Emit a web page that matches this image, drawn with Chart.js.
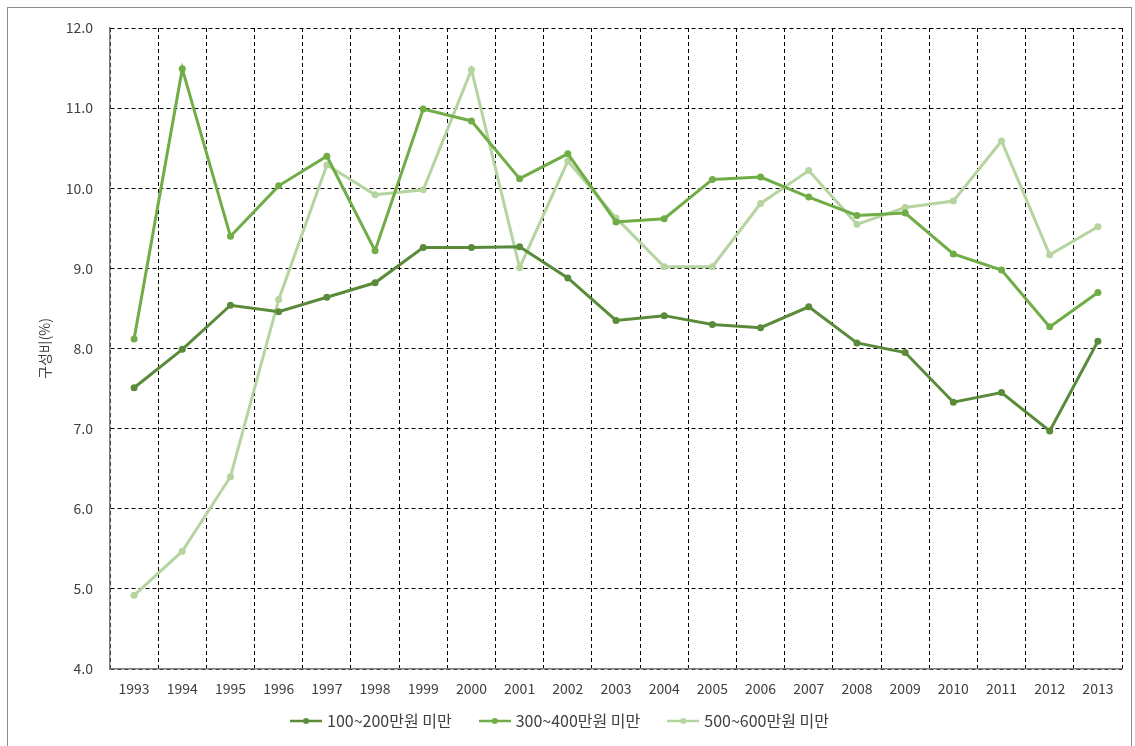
<!DOCTYPE html>
<html>
<head>
<meta charset="utf-8">
<script src="https://cdn.jsdelivr.net/npm/chart.js@4"></script>
<style>
  html, body { margin: 0; padding: 0; background: #fff; }
  #wrap { position: relative; width: 1135px; height: 746px; }
  #frame { position: absolute; left: 7px; top: 7px; width: 1125px; height: 745px; border: 1px solid #8c8c8c; box-sizing: border-box; }
  canvas { position: absolute; left: 0; top: 0; }
</style>
</head>
<body>
<div id="wrap">
  <div id="frame"></div>
  <canvas id="chart" width="1135" height="746"></canvas>
</div>
<script>
const years = ['1993','1994','1995','1996','1997','1998','1999','2000','2001','2002','2003',
               '2004','2005','2006','2007','2008','2009','2010','2011','2012','2013'];
const low = [7.51, 7.99, 8.54, 8.46, 8.64, 8.82, 9.26, 9.26, 9.27, 8.88, 8.35,
             8.41, 8.30, 8.26, 8.52, 8.07, 7.95, 7.33, 7.45, 6.97, 8.09];
const mid = [8.12, 11.49, 9.40, 10.03, 10.40, 9.22, 10.99, 10.84, 10.12, 10.43, 9.58,
             9.62, 10.11, 10.14, 9.89, 9.66, 9.69, 9.18, 8.98, 8.27, 8.70];
const high = [4.92, 5.47, 6.40, 8.61, 10.29, 9.92, 9.98, 11.48, 9.01, 10.34, 9.63,
              9.02, 9.02, 9.81, 10.22, 9.55, 9.76, 9.84, 10.59, 9.17, 9.52];
const seriesNames = ['100~200만원 미만', '300~400만원 미만', '500~600만원 미만'];
const colors = ['#5a8b3b', '#70ad47', '#b5d49f'];

const FONT = '"Noto Sans CJK KR", "Noto Sans", sans-serif';

// small line-with-dot marker for the legend
function legendMark(color) {
    const c = document.createElement('canvas');
    c.width = 32; c.height = 8;
    const g = c.getContext('2d');
    g.strokeStyle = color; g.lineWidth = 2.5;
    g.beginPath(); g.moveTo(0, 4); g.lineTo(32, 4); g.stroke();
    g.fillStyle = color;
    g.beginPath(); g.arc(16, 4, 3, 0, Math.PI * 2); g.fill();
    return c;
}

function makeSet(i, values) {
    return {
        label: seriesNames[i],
        data: values,
        borderColor: colors[i],
        backgroundColor: colors[i],
        borderWidth: 3,
        pointRadius: 3.5,
        pointHoverRadius: 3.5,
        pointBackgroundColor: colors[i],
        pointBorderWidth: 0,
        tension: 0,
        fill: false
    };
}

const ctx = document.getElementById('chart').getContext('2d');

new Chart(ctx, {
    type: 'line',
    data: {
        labels: years,
        datasets: [makeSet(0, low), makeSet(1, mid), makeSet(2, high)]
    },
    options: {
        responsive: false,
        animation: false,
        layout: { padding: { left: 0, right: 13, top: 28, bottom: 10 } },
        scales: {
            x: {
                offset: true,
                grid: { offset: true, color: '#000', lineWidth: 1, drawTicks: false },
                border: { display: true, color: '#808080', width: 1.5, dash: [4, 3] },
                ticks: { color: '#404040', font: { family: FONT, size: 14 }, padding: 11, maxRotation: 0 },
                afterFit: s => { s.height = 14; }
            },
            y: {
                min: 4, max: 12,
                ticks: {
                    stepSize: 1,
                    color: '#404040',
                    font: { family: FONT, size: 14 },
                    padding: 17,
                    callback: v => v.toFixed(1)
                },
                grid: { color: '#000', lineWidth: 1, drawTicks: false },
                border: { display: true, color: '#808080', width: 1.5, dash: [4, 3] },
                title: {
                    display: true,
                    text: '구성비(%)',
                    color: '#404040',
                    font: { family: FONT, size: 14 },
                    padding: { top: 36, bottom: 0 }
                },
                afterFit: s => { s.width = 110; }
            }
        },
        plugins: {
            legend: {
                position: 'bottom',
                maxHeight: 53,
                labels: {
                    usePointStyle: true,
                    pointStyleWidth: 26,
                    boxHeight: 8,
                    padding: 30,
                    color: '#404040',
                    font: { family: FONT, size: 16 },
                    generateLabels: chart => chart.data.datasets.map((d, i) => ({
                        text: d.label,
                        pointStyle: legendMark(colors[i]),
                        fillStyle: colors[i],
                        strokeStyle: colors[i],
                        lineWidth: 0,
                        fontColor: '#404040',
                        datasetIndex: i
                    }))
                }
            },
            tooltip: { enabled: false }
        }
    },
    plugins: [{
        id: 'labelRoom',
        afterLayout(chart) {
            // x tick labels sit below a short axis box; let them draw unclipped
            chart.scales.x.bottom = chart.height;
        }
    }]
});
</script>
</body>
</html>
